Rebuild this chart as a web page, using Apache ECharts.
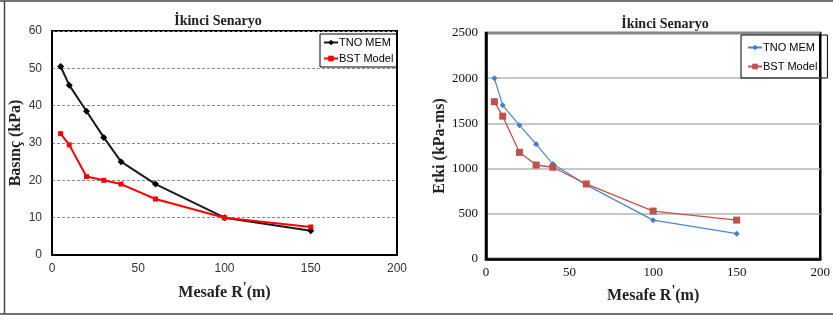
<!DOCTYPE html>
<html><head><meta charset="utf-8">
<script src="https://cdn.jsdelivr.net/npm/echarts@6/dist/echarts.min.js"></script>
<style>html,body{margin:0;padding:0;background:#fff}#c{width:833px;height:320px}</style>
</head><body><div id="c"></div>
<script>
const distances = [5, 10, 20, 30, 40, 60, 100, 150];
const pressureTNO = [50.5, 45.5, 38.5, 31.5, 25, 19, 10, 6.5];
const pressureBST = [32.5, 29.5, 21, 20, 19, 15, 10, 7.5];
const impulseTNO = [2000, 1700, 1480, 1270, 1050, 820, 430, 280];
const impulseBST = [1740, 1580, 1180, 1040, 1015, 830, 530, 430];
const titleText = 'İkinci Senaryo';
const yName1 = 'Basınç (kPa)';
const yName2 = 'Etki (kPa-ms)';
const xName = 'Mesafe R{s|\'}(m)';
const legendNames = ['TNO MEM', 'BST Model'];

const pair = (xs, ys) => xs.map((x, i) => [x, ys[i]]);
const serif = 'Liberation Serif';
const sans = 'Liberation Sans';
const supRich = { s: { fontFamily: serif, fontWeight: 'bold', fontSize: 14, color: '#222', padding: [0, 0, 9, 0] } };

const chart = echarts.init(document.getElementById('c'), null, { renderer: 'canvas' });
chart.setOption({
  animation: false,
  backgroundColor: '#fff',
  title: [
    { text: titleText, left: 213, top: 9, textAlign: 'center', textStyle: { fontFamily: serif, fontWeight: 'bold', fontSize: 14, color: '#222' } },
    { text: titleText, left: 660, top: 12, textAlign: 'center', textStyle: { fontFamily: serif, fontWeight: 'bold', fontSize: 14, color: '#222' } }
  ],
  graphic: [
    { type: 'line', shape: { x1: 0, y1: 1, x2: 833, y2: 1 }, style: { stroke: '#444', lineWidth: 1.5 } },
    { type: 'line', shape: { x1: 4.5, y1: 1, x2: 4.5, y2: 314 }, style: { stroke: '#444', lineWidth: 1.5 } },
    { type: 'line', shape: { x1: 0, y1: 314, x2: 833, y2: 314 }, style: { stroke: '#444', lineWidth: 1.5 } }
  ],
  legend: [
    {
      data: [legendNames[0], legendNames[1]],
      orient: 'vertical', left: 320, top: 34, padding: [3, 4, 3, 3], itemGap: 5,
      itemWidth: 14, itemHeight: 7,
      borderColor: '#000', borderWidth: 1, borderRadius: 0,
      textStyle: { fontFamily: sans, fontSize: 11, color: '#000', padding: [0, 0, 0, -4] }
    },
    {
      data: [legendNames[0] + ' ', legendNames[1] + ' '],
      formatter: n => n.trim(),
      orient: 'vertical', left: 741, top: 35, padding: [7, 10, 6, 6], itemGap: 8,
      itemWidth: 14, itemHeight: 7,
      borderColor: '#000', borderWidth: 1, borderRadius: 0,
      textStyle: { fontFamily: sans, fontSize: 11, color: '#000', padding: [0, 0, 0, -4] }
    }
  ],
  grid: [
    { left: 52, right: 436, top: 31, bottom: 65, show: true, borderColor: '#000', borderWidth: 2, backgroundColor: 'transparent' },
    { left: 486, right: 5, top: 33, bottom: 61, show: true, borderColor: '#000', borderWidth: 2.5, backgroundColor: 'transparent' }
  ],
  xAxis: [
    {
      gridIndex: 0, type: 'value', min: 0, max: 200, interval: 50,
      axisLine: { show: true, lineStyle: { color: '#000', width: 2 } }, axisTick: { show: false }, splitLine: { show: false },
      axisLabel: { fontFamily: sans, fontSize: 12, color: '#333', margin: 8 },
      name: xName, nameLocation: 'middle', nameGap: 26,
      nameTextStyle: { fontFamily: serif, fontWeight: 'bold', fontSize: 16, color: '#222', rich: supRich }
    },
    {
      gridIndex: 1, type: 'value', min: 0, max: 200, interval: 50,
      axisLine: { show: true, lineStyle: { color: '#000', width: 2.5 } }, axisTick: { show: false }, splitLine: { show: false },
      axisLabel: { fontFamily: serif, fontSize: 13, color: '#111', margin: 7 },
      name: xName, nameLocation: 'middle', nameGap: 25,
      nameTextStyle: { fontFamily: serif, fontWeight: 'bold', fontSize: 16, color: '#222', rich: supRich }
    }
  ],
  yAxis: [
    {
      gridIndex: 0, type: 'value', min: 0, max: 60, interval: 10,
      axisLine: { show: true, lineStyle: { color: '#000', width: 2 } }, axisTick: { show: false },
      splitLine: { show: true, lineStyle: { color: '#8a8a8a', type: [3, 2], width: 1 } },
      axisLabel: { fontFamily: sans, fontSize: 12, color: '#333', margin: 10 },
      name: yName1, nameLocation: 'middle', nameGap: 28, nameRotate: 90,
      nameTextStyle: { fontFamily: serif, fontWeight: 'bold', fontSize: 16, color: '#222' }
    },
    {
      gridIndex: 1, type: 'value', min: 0, max: 2500, interval: 500,
      axisLine: { show: true, lineStyle: { color: '#000', width: 2.5 } }, axisTick: { show: false },
      splitLine: { show: true, lineStyle: { color: '#b5b5b5', type: 'solid', width: 1.5 } },
      axisLabel: { fontFamily: serif, fontSize: 13, color: '#111', margin: 8, formatter: v => String(v) },
      name: yName2, nameLocation: 'middle', nameGap: 29, nameRotate: 90,
      nameTextStyle: { fontFamily: serif, fontWeight: 'bold', fontSize: 16, color: '#222' }
    }
  ],
  series: [
    {
      name: legendNames[0], type: 'line', xAxisIndex: 0, yAxisIndex: 0, data: pair(distances, pressureTNO),
      symbol: 'diamond', symbolSize: 7, showAllSymbol: true,
      lineStyle: { color: '#1a1a1a', width: 2 }, itemStyle: { color: '#000' }, z: 3
    },
    {
      name: legendNames[1], type: 'line', xAxisIndex: 0, yAxisIndex: 0, data: pair(distances, pressureBST),
      symbol: 'rect', symbolSize: 5, showAllSymbol: true,
      lineStyle: { color: '#ff0000', width: 2 }, itemStyle: { color: '#ff0000' }, z: 4
    },
    {
      name: legendNames[0] + ' ', type: 'line', xAxisIndex: 1, yAxisIndex: 1, data: pair(distances, impulseTNO),
      symbol: 'diamond', symbolSize: 6, showAllSymbol: true,
      lineStyle: { color: '#4a86d0', width: 1.2 }, itemStyle: { color: '#3f7fcc' }, z: 3
    },
    {
      name: legendNames[1] + ' ', type: 'line', xAxisIndex: 1, yAxisIndex: 1, data: pair(distances, impulseBST),
      symbol: 'rect', symbolSize: 7, showAllSymbol: true,
      lineStyle: { color: '#c8514e', width: 1.3 }, itemStyle: { color: '#c0504d' }, z: 4
    }
  ]
});
</script></body></html>
